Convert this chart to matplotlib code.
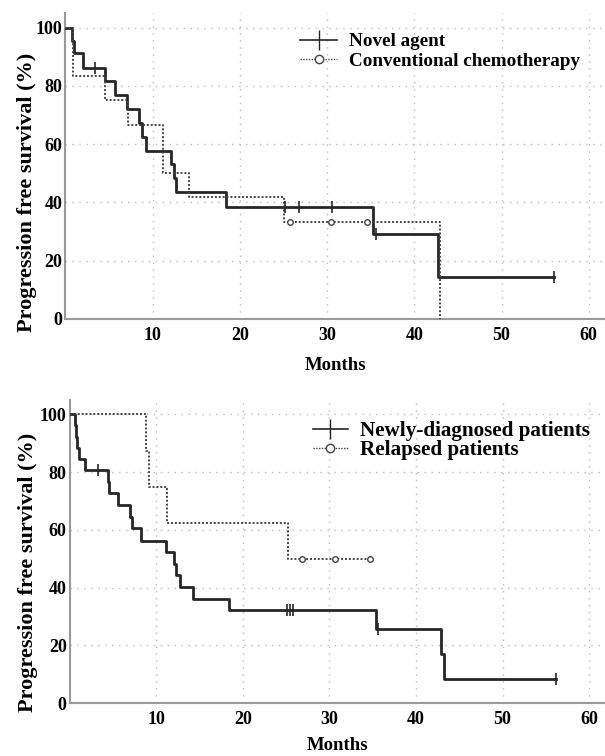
import matplotlib
matplotlib.use("Agg")
from matplotlib import pyplot as plt
from matplotlib.lines import Line2D

# top panel: novel agent vs conventional chemotherapy
novel_t = [0, 0.8, 1.0, 2.0, 4.6, 5.7, 7.1, 8.4, 8.8, 9.2, 12.1, 12.4, 12.7, 18.4, 35.3, 42.7, 56.0]
novel_s = [100, 95.5, 91.2, 86.3, 81.7, 76.9, 72.1, 67.1, 62.5, 57.6, 53.0, 48.2, 43.4, 38.5, 29.0, 14.5, 14.5]
novel_cens_t = [3.4, 25.2, 26.8, 30.6, 35.6, 56.0]
novel_cens_s = [86.3, 38.5, 38.5, 38.5, 29.0, 14.5]

conv_t = [0, 0.85, 4.5, 7.2, 11.2, 14.2, 25.1, 43.0]
conv_s = [100, 83.3, 75.0, 66.7, 50.0, 41.7, 33.3, 0]
conv_cens_t = [25.8, 30.4, 34.6]
conv_cens_s = [33.3, 33.3, 33.3]

# bottom panel: newly-diagnosed vs relapsed
new_t = [0, 0.6, 0.7, 0.9, 1.1, 1.8, 4.5, 4.6, 5.6, 7.0, 7.2, 8.2, 11.1, 12.1, 12.3, 12.7,
         14.2, 18.4, 35.4, 42.9, 43.2, 56.2]
new_s = [100, 96.2, 92.3, 88.5, 84.6, 80.8, 76.5, 72.7, 68.5, 64.6, 60.6, 56.3, 52.3, 48.2,
         44.2, 40.1, 36.1, 32.1, 25.6, 16.9, 8.4, 8.4]
new_cens_t = [3.3, 25.1, 25.5, 25.8, 35.6, 56.2]
new_cens_s = [80.8, 32.1, 32.1, 32.1, 25.6, 8.4]

rel_t = [0, 8.8, 9.2, 11.2, 25.2, 34.7]
rel_s = [100, 87.5, 75.0, 62.5, 50.0, 50.0]
rel_cens_t = [26.8, 30.6, 34.7]
rel_cens_s = [50.0, 50.0, 50.0]

xticks = [10, 20, 30, 40, 50, 60]
yticks = [0, 20, 40, 60, 80, 100]

plt.rcParams['font.family'] = ['Liberation Serif', 'DejaVu Serif']
plt.rcParams['font.weight'] = 'bold'

fig = plt.figure(figsize=(6.05, 7.56), dpi=100)
ax1 = fig.add_axes([0.108, 0.5784, 0.894, 0.4042])
ax2 = fig.add_axes([0.1149, 0.0701, 0.8876, 0.4008])

solid_c = '#262626'
dot_c = '#444444'


def km_panel(ax, t1, s1, c1t, c1s, t2, s2, c2t, c2s, labels, leg_xy, leg_size,
             leg_hl, leg_sp, ylab_xy, xlab_y):
    ax.step(t1, s1, where='post', color=solid_c, lw=2.0, zorder=3)
    ax.plot(c1t, c1s, ls='none', marker='|', ms=8, mew=1.2, color=solid_c, zorder=4)
    ax.step(t2, s2, where='post', color=dot_c, lw=1.4, ls=(0, (1, 1)), zorder=3)
    ax.plot(c2t, c2s, ls='none', marker='o', ms=4, mfc='white', mec=dot_c, mew=1.0, zorder=4)

    ax.set_xlim(0, 62)
    ax.set_ylim(0, 105)
    ax.set_xticks(xticks)
    ax.set_yticks(yticks)
    ax.tick_params(length=0, labelsize=13, pad=6)
    ax.tick_params(axis='y', pad=2)
    for lab in ax.get_xticklabels() + ax.get_yticklabels():
        lab.set_fontweight('bold')
    ax.grid(True, color='#bbbbbb', ls=(0, (1, 4)), lw=1.0)
    for s in ['top', 'right']:
        ax.spines[s].set_visible(False)
    for s in ['left', 'bottom']:
        ax.spines[s].set_color('#999999')
        ax.spines[s].set_linewidth(1.5)
    ax.set_xlabel('Months', fontsize=13.5, fontweight='bold', va='center')
    ax.xaxis.set_label_coords(0.5, xlab_y)
    ax.set_ylabel('Progression free survival (%)', fontsize=16, fontweight='bold', va='center')
    ax.yaxis.set_label_coords(*ylab_xy)

    handles = [Line2D([], [], color=solid_c, lw=1.2, marker='|', ms=14, mew=1.0),
               Line2D([], [], color=dot_c, lw=1.0, ls=(0, (1, 1)), marker='o', ms=6,
                      mfc='white', mec=dot_c)]
    ax.legend(handles, labels, loc='upper left', bbox_to_anchor=leg_xy, frameon=False,
              prop={'size': leg_size, 'weight': 'bold'}, handlelength=leg_hl,
              labelspacing=leg_sp, handletextpad=0.6, borderaxespad=0, borderpad=0)


km_panel(ax1, novel_t, novel_s, novel_cens_t, novel_cens_s,
         conv_t, conv_s, conv_cens_t, conv_cens_s,
         ['Novel agent', 'Conventional chemotherapy'],
         (0.434, 0.935), 13.8, 1.95, 0.1, (-0.07, 0.415), -0.152)
km_panel(ax2, new_t, new_s, new_cens_t, new_cens_s,
         rel_t, rel_s, rel_cens_t, rel_cens_s,
         ['Newly-diagnosed patients', 'Relapsed patients'],
         (0.453, 0.93), 15.2, 1.65, -0.05, (-0.078, 0.43), -0.139)

fig.savefig("out.png", dpi=100)
